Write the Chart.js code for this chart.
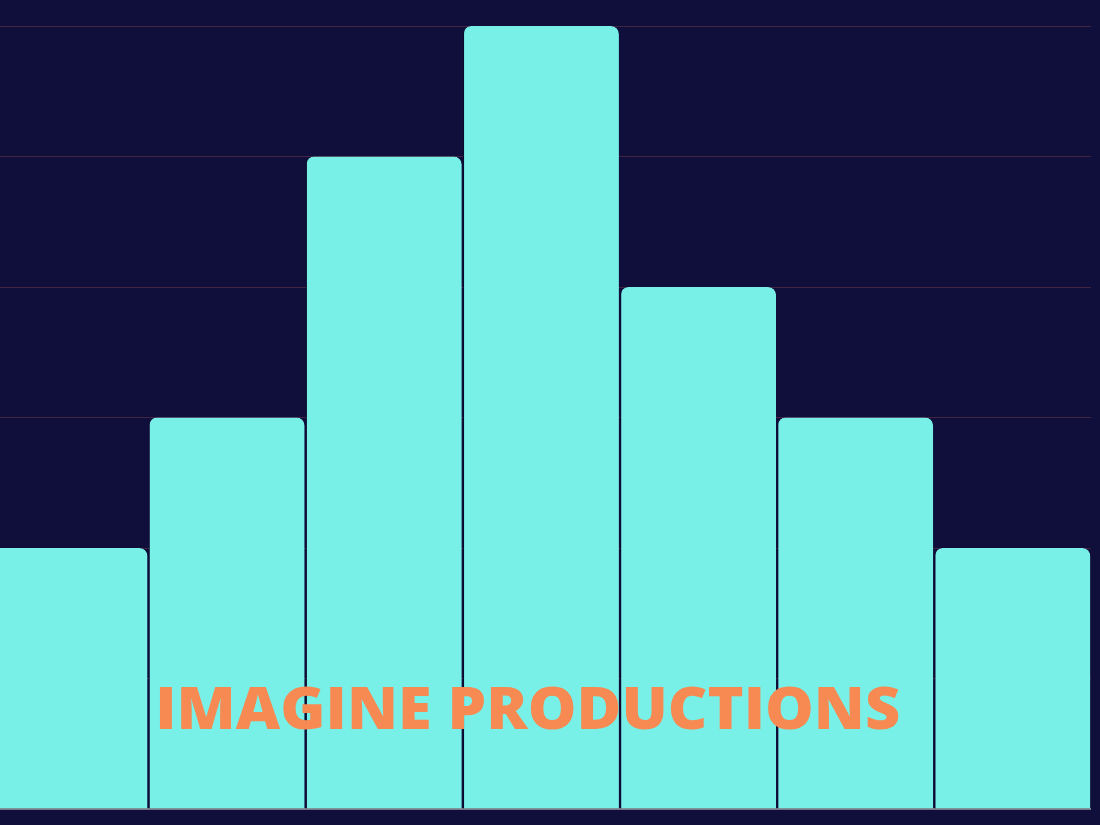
<!DOCTYPE html>
<html>
<head>
<meta charset="utf-8">
<script src="https://cdn.jsdelivr.net/npm/chart.js@4/dist/chart.umd.min.js"></script>
<style>
  html, body {
    margin: 0;
    padding: 0;
    background: #100e3a;
    width: 1100px;
    height: 825px;
    overflow: hidden;
  }
  #wrap {
    position: absolute;
    left: -9px;
    top: 0;
    width: 1100px;
    height: 825px;
  }
  #brand {
    position: absolute;
    left: 0;
    width: 1056px;
    top: 672px;
    text-align: center;
    font-family: "Open Sans", "DejaVu Sans", sans-serif;
    font-weight: 800;
    font-size: 58px;
    line-height: 70px;
    color: #f78a52;
    white-space: nowrap;
    pointer-events: none;
  }
  #brand span {
    display: inline-block;
    transform-origin: center;
  }
</style>
</head>
<body>
<div id="wrap"><canvas id="barChart"></canvas></div>
<div id="brand"><span id="brandText">IMAGINE PRODUCTIONS</span></div>

<script>
// ข้อมูลกราฟ
const categories = ["1", "2", "3", "4", "5", "6", "7"];
const values = [2, 3, 5, 6, 4, 3, 2];
const yTicks = [0, 1, 2, 3, 4, 5, 6];

const barColor = "#78f0e8";
const gridColor = "rgba(140, 75, 85, 0.4)";

const ctx = document.getElementById("barChart").getContext("2d");

const chart = new Chart(ctx, {
  type: "bar",
  data: {
    labels: categories,
    datasets: [
      {
        data: values,
        backgroundColor: barColor,
        borderColor: "#0c0a2a",
        borderWidth: { left: 1, right: 0, top: 0, bottom: 0 },
        borderSkipped: "bottom",
        borderRadius: { topLeft: 8, topRight: 8, bottomLeft: 0, bottomRight: 0 },
        categoryPercentage: 1.0,
        barPercentage: 0.992,
      },
    ],
  },
  options: {
    responsive: true,
    maintainAspectRatio: false,
    animation: false,
    layout: {
      padding: { top: 26, bottom: 16, left: 0, right: 0 },
    },
    plugins: {
      legend: { display: false },
      tooltip: { enabled: false },
    },
    scales: {
      x: {
        grid: { display: false, drawTicks: false },
        border: { display: true, color: "#7a7a86", width: 2 },
        ticks: { display: false },
      },
      y: {
        min: yTicks[0],
        max: yTicks[yTicks.length - 1],
        afterBuildTicks: (axis) => {
          axis.ticks = yTicks.map((v) => ({ value: v }));
        },
        grid: {
          color: gridColor,
          lineWidth: 1,
          drawTicks: false,
        },
        border: { display: false },
        ticks: { display: false },
      },
    },
  },
});

// ปรับความกว้างข้อความให้ใกล้ต้นฉบับ
const brand = document.getElementById("brandText");
const w = brand.getBoundingClientRect().width;
brand.style.transform = "scaleX(" + (745 / w) + ")";
</script>
</body>
</html>
